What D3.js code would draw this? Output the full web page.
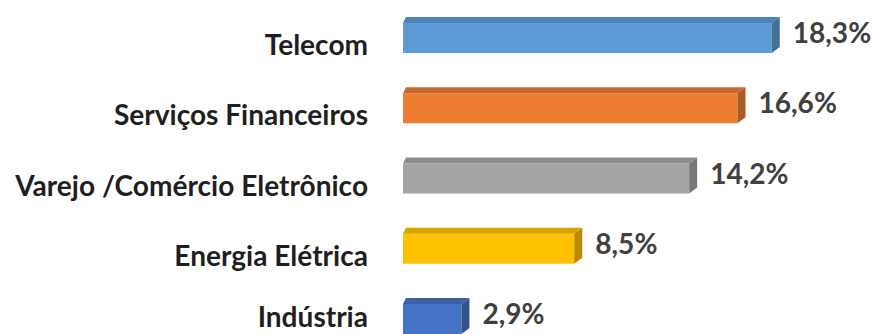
<!DOCTYPE html>
<html>
<head>
<meta charset="utf-8">
<script src="https://cdn.jsdelivr.net/npm/d3@7"></script>
<style>
  body { margin: 0; background: #fff; }
  svg { display: block; }
</style>
</head>
<body>
<svg id="chart"></svg>
<script>
// data
const categories = ["Telecom", "Serviços Financeiros", "Varejo /Comércio Eletrônico", "Energia Elétrica", "Indústria"];
const values = [18.3, 16.6, 14.2, 8.5, 2.9];
const colors = ["#5B9BD5", "#ED7D31", "#A5A5A5", "#FFC000", "#4472C4"];

const w = 872, h = 334;
const barH = 30;     // front face height
const depthX = 8;    // 3d side offset
const depthY = 6;
const fontFam = "Lato, 'Open Sans', sans-serif";

const svg = d3.select("#chart").attr("width", w).attr("height", h);

const xScale = d3.scaleLinear().domain([0, 20]).range([403, 806]);
const yScale = d3.scalePoint().domain(categories).range([38, 319]);

const rows = categories.map((c, i) => ({ cat: c, val: values[i], color: colors[i] }));

const g = svg.selectAll("g.bar").data(rows).enter().append("g").attr("class", "bar");

// front face
g.append("rect")
  .attr("x", xScale(0))
  .attr("y", d => yScale(d.cat) - barH / 2)
  .attr("width", d => xScale(d.val) - xScale(0))
  .attr("height", barH)
  .attr("fill", d => d.color);

// top face
g.append("path")
  .attr("d", d => {
    const x0 = xScale(0), x1 = xScale(d.val), y0 = yScale(d.cat) - barH / 2;
    return `M${x0},${y0} L${x1},${y0} L${x1 + depthX},${y0 - depthY} L${x0 + 3},${y0 - depthY} Z`;
  })
  .attr("fill", d => d3.color(d.color).darker(0.45));

// right side face
g.append("path")
  .attr("d", d => {
    const x1 = xScale(d.val), y0 = yScale(d.cat) - barH / 2;
    return `M${x1},${y0} L${x1 + depthX},${y0 - depthY} L${x1 + depthX},${y0 + barH - depthY} L${x1},${y0 + barH} Z`;
  })
  .attr("fill", d => d3.color(d.color).darker(0.9));

// category labels (kept inside the bottom edge)
const labels = g.append("text")
  .attr("x", 368)
  .attr("y", d => Math.min(yScale(d.cat) + barH / 2 + 2, h - 7))
  .attr("text-anchor", "end")
  .style("font-family", fontFam)
  .style("font-weight", "bold")
  .style("font-size", "26px")
  .style("fill", "#1f1f1f")
  .text(d => d.cat);

// scale font so the longest label fits the width in the picture
const longest = labels.filter(d => d.cat === categories[2]).node().getComputedTextLength();
const fs = 26 * 353 / longest;
labels.style("font-size", fs + "px");

// value labels
const vals = g.append("text")
  .attr("x", d => xScale(d.val) + depthX + 13)
  .attr("y", d => yScale(d.cat) + 5)
  .style("font-family", fontFam)
  .style("font-weight", "bold")
  .style("font-size", fs + "px")
  .style("fill", "#404040")
  .text(d => d.val.toFixed(1).replace(".", ",") + "%");
</script>
</body>
</html>
